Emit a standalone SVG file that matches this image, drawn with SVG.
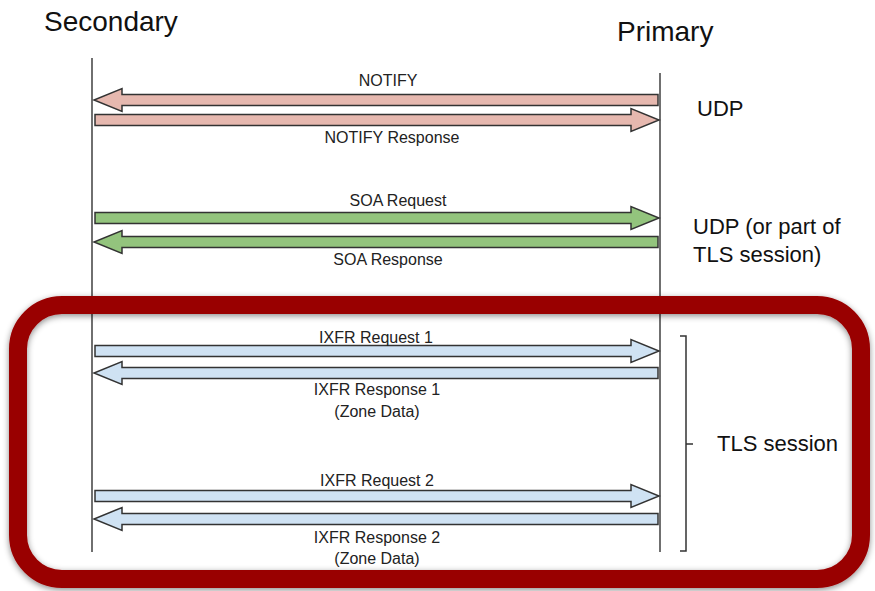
<svg xmlns="http://www.w3.org/2000/svg" width="875" height="591" viewBox="0 0 875 591">
<style>
.lbl{font-family:"Liberation Sans",Arial,sans-serif;font-size:16px;fill:#222;text-anchor:middle}
.big{font-family:"Liberation Sans",Arial,sans-serif;font-size:28px;fill:#111}
.side{font-family:"Liberation Sans",Arial,sans-serif;font-size:22px;fill:#111}
.life{stroke:#222;stroke-width:1.3;fill:none}
.arr{stroke:#333;stroke-width:1.5;stroke-linejoin:miter}
.pink{fill:#e6b8af}.green{fill:#93c47d}.blue{fill:#cfe2f3}
</style>
<defs>
<path id="ra" d="M95,-5.5 H631 V-11.5 L659,0 L631,11.5 V5.5 H95 Z"/>
<path id="la" d="M658,-5.5 H122 V-11.5 L94,0 L122,11.5 V5.5 H658 Z"/>
<filter id="sh" x="-5%" y="-5%" width="110%" height="115%">
<feDropShadow dx="0" dy="2" stdDeviation="3" flood-color="#000" flood-opacity="0.45"/>
</filter>
</defs>
<rect width="875" height="591" fill="#fff"/>
<g id="secondary"><text class="big" x="44" y="31">Secondary</text><line class="life" x1="92" y1="58" x2="92" y2="552"/></g>
<g id="primary"><text class="big" x="617" y="41">Primary</text><line class="life" x1="660" y1="73" x2="660" y2="552"/></g>
<g id="tls-box"><rect x="18" y="305" width="843" height="274" rx="44" fill="none" stroke="#990000" stroke-width="18" filter="url(#sh)"/></g>
<g id="connectors">
<use href="#la" class="arr pink" transform="translate(0,100)"/>
<use href="#ra" class="arr pink" transform="translate(0,120)"/>
<use href="#ra" class="arr green" transform="translate(0,218)"/>
<use href="#la" class="arr green" transform="translate(0,242)"/>
<use href="#ra" class="arr blue" transform="translate(0,351)"/>
<use href="#la" class="arr blue" transform="translate(0,373)"/>
<use href="#ra" class="arr blue" transform="translate(0,496)"/>
<use href="#la" class="arr blue" transform="translate(0,519)"/>
</g>
<g id="labels">
<text class="lbl" x="388" y="86">NOTIFY</text>
<text class="lbl" x="392" y="143">NOTIFY Response</text>
<text class="lbl" x="398" y="206">SOA Request</text>
<text class="lbl" x="388" y="265">SOA Response</text>
<text class="lbl" x="376" y="343">IXFR Request 1</text>
<text class="lbl" x="377" y="395">IXFR Response 1</text>
<text class="lbl" x="377" y="417">(Zone Data)</text>
<text class="lbl" x="377" y="486">IXFR Request 2</text>
<text class="lbl" x="377" y="543">IXFR Response 2</text>
<text class="lbl" x="377" y="564">(Zone Data)</text>
</g>
<g id="udp"><text class="side" x="697" y="116">UDP</text></g>
<g id="udp-tls"><text class="side" x="693" y="234">UDP (or part of</text><text class="side" x="693" y="262">TLS session)</text></g>
<g id="tls-session">
<path d="M680,336 H686 V551 H680 M686,444 H693" fill="none" stroke="#333" stroke-width="1.5"/>
<text class="side" x="717" y="451">TLS session</text>
</g>
</svg>
